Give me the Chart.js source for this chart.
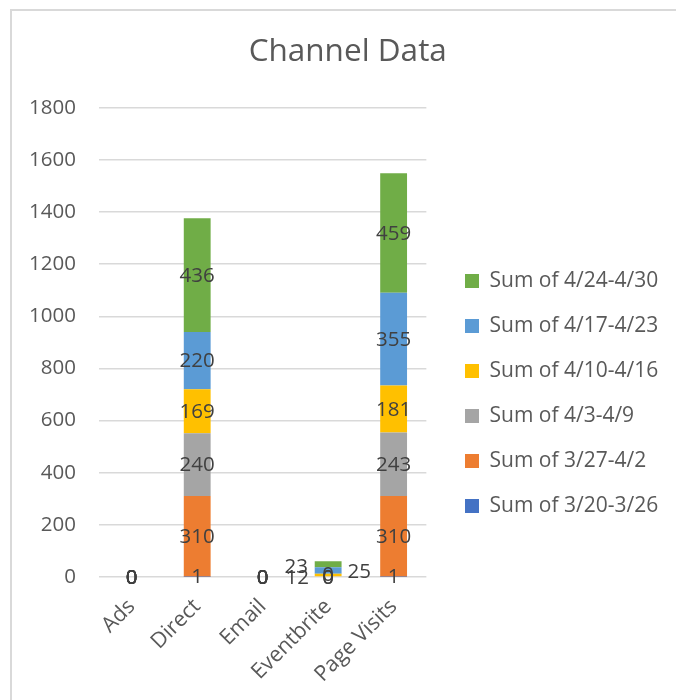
<!DOCTYPE html>
<html><head><meta charset="utf-8">
<script src="https://cdn.jsdelivr.net/npm/chart.js@4.4.1/dist/chart.umd.min.js"></script>
<style>html,body{margin:0;padding:0;background:#fff;}</style>
</head><body>
<canvas id="c" width="676" height="700"></canvas>
<script>
const categories = ['Ads', 'Direct', 'Email', 'Eventbrite', 'Page Visits'];
const seriesNames = ['Sum of 3/20-3/26', 'Sum of 3/27-4/2', 'Sum of 4/3-4/9', 'Sum of 4/10-4/16', 'Sum of 4/17-4/23', 'Sum of 4/24-4/30'];
const s0320 = [0, 1, 0, 0, 1];
const s0327 = [0, 310, 0, 0, 310];
const s0403 = [0, 240, 0, 0, 243];
const s0410 = [0, 169, 0, 12, 181];
const s0417 = [0, 220, 0, 25, 355];
const s0424 = [0, 436, 0, 23, 459];
const yTicks = [0, 200, 400, 600, 800, 1000, 1200, 1400, 1600, 1800];

const seriesValues = [s0320, s0327, s0403, s0410, s0417, s0424];
const seriesColors = ['#4472C4', '#ED7D31', '#A5A5A5', '#FFC000', '#5B9BD5', '#70AD47'];
// label nudges (px) for the crowded Eventbrite column, as placed in the original
const labelNudge = { '3-3': [-31, 2], '4-3': [31, 1], '5-3': [-32, 2], '2-3': [0, -3] };

const FONT = '"Open Sans"';
const borderPlugin = {
  id: 'frame',
  beforeDraw(chart) {
    const ctx = chart.ctx;
    ctx.save();
    ctx.strokeStyle = '#d9d9d9';
    ctx.lineWidth = 2;
    ctx.beginPath();
    ctx.moveTo(11, chart.height + 5);
    ctx.lineTo(11, 10);
    ctx.lineTo(chart.width + 5, 10);
    ctx.stroke();
    ctx.restore();
  }
};
const boxShift = {
  id: 'boxShift',
  afterLayout(chart) {
    const lg = chart.legend;
    const pad = lg.options.labels.padding;
    const dx = 465 - (lg.left + pad);
    const dy = 246.5 - lg.top;
    lg.left += dx; lg.right += dx;
    lg.top += dy; lg.bottom += dy;
    const tb = chart.titleBlock;
    tb.left += 11; tb.right += 11;
  }
};
const valueLabels = {
  id: 'valueLabels',
  afterDatasetsDraw(chart) {
    const ctx = chart.ctx;
    ctx.save();
    ctx.font = '20.5px ' + FONT;
    ctx.fillStyle = '#404040';
    ctx.textAlign = 'center';
    ctx.textBaseline = 'middle';
    chart.data.datasets.forEach((ds, di) => {
      const meta = chart.getDatasetMeta(di);
      meta.data.forEach((bar, i) => {
        const nd = labelNudge[di + '-' + i] || [0, 0];
        const y = (bar.y + bar.base) / 2;
        ctx.fillText(String(ds.data[i]), bar.x + nd[0], y + nd[1] + 1);
      });
    });
    ctx.restore();
  }
};

new Chart(document.getElementById('c'), {
  type: 'bar',
  data: {
    labels: categories,
    datasets: seriesNames.map((n, k) => ({
      label: n,
      data: seriesValues[k],
      backgroundColor: seriesColors[k],
      borderWidth: 0,
      categoryPercentage: 1,
      barPercentage: 0.41
    }))
  },
  options: {
    responsive: false,
    animation: false,
    devicePixelRatio: 1,
    layout: { padding: { left: 20, right: 22.5, top: 0, bottom: 0 } },
    plugins: {
      title: {
        display: true, text: 'Channel Data', color: '#595959',
        font: { family: FONT, size: 31.5, weight: 'normal' },
        padding: { top: 33, bottom: 37 }
      },
      legend: {
        position: 'right', reverse: true, align: 'start', maxWidth: 320,
        labels: {
          boxWidth: 14, boxHeight: 14, padding: 24, color: '#595959',
          font: { family: FONT, size: 21 }
        }
      },
      tooltip: { enabled: false }
    },
    scales: {
      x: {
        stacked: true,
        grid: { display: false, drawTicks: false },
        border: { display: false },
        ticks: { color: '#595959', font: { family: FONT, size: 21.5 }, maxRotation: 45, minRotation: 45, padding: 17 },
        afterFit(s) { s.height = 123; }
      },
      y: {
        stacked: true, min: 0, max: 1800,
        afterBuildTicks(s) { s.ticks = yTicks.map(v => ({ value: v })); },
        grid: { color: '#d9d9d9', lineWidth: 1.5, drawTicks: false },
        border: { display: false },
        ticks: { color: '#595959', font: { family: FONT, size: 20.5 }, padding: 23, callback: v => String(v) },
        afterFit(s) { s.width = 79; }
      }
    }
  },
  plugins: [borderPlugin, boxShift, valueLabels]
});
</script>
</body></html>
